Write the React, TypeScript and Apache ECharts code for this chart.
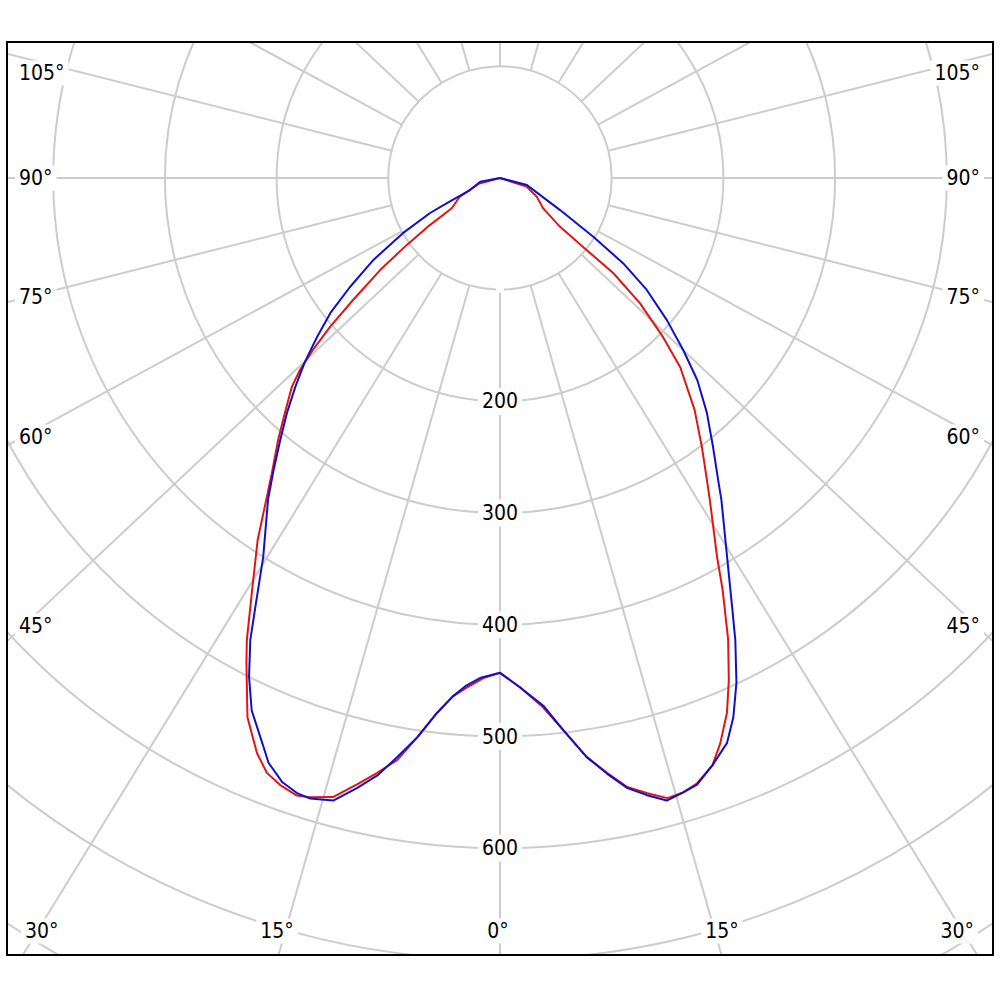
import React, { useEffect, useRef } from 'react';
import * as echarts from 'echarts';

// Intensity (cd), as [gamma in degrees, value]
const redLeft: [number, number][] = [
  [90, 0], [75.2, 19], [64.9, 40], [57.9, 51], [56.1, 76], [54.3, 103], [52.5, 135],
  [50.3, 171], [48.8, 202], [47.4, 228], [46.2, 248], [44.9, 264], [42.5, 285],
  [40.3, 307], [37.7, 334], [36.0, 356], [33.8, 390], [31.0, 431], [28.7, 472],
  [27.6, 490], [25.1, 533], [22.9, 559], [21.4, 572], [19.9, 578], [18.2, 582],
  [17.1, 580], [15.1, 574], [13.3, 558], [11.7, 544], [10.0, 529], [8.4, 506],
  [6.7, 482], [5.2, 466], [3.7, 457], [1.9, 448], [0, 443],
];
const redRight: [number, number][] = [
  [0, 443], [2.2, 456], [4.6, 475], [6.5, 497], [8.5, 524], [10.2, 541], [11.8, 557],
  [13.4, 566], [15.1, 575], [16.6, 574], [18.0, 570], [19.9, 559], [21.3, 543],
  [23.0, 520], [24.5, 494], [26.3, 461], [28.4, 419], [29.8, 391], [33.1, 344],
  [34.4, 328], [36.9, 301], [40.0, 271], [43.6, 234], [45.7, 204], [48.2, 168],
  [50.0, 132], [50.3, 97], [50.9, 69], [55, 47], [63, 37], [72, 25], [90, 0],
];
const blueLeft: [number, number][] = [
  [90, 0], [79.5, 18], [68.2, 29], [64.6, 53], [63.4, 70], [60.4, 100], [57.1, 135],
  [54.0, 166], [51.5, 194], [49.0, 217], [46.7, 240], [44.4, 262], [42.2, 284],
  [40.0, 306], [37.6, 333], [35.8, 355], [32.0, 400], [29.7, 442], [28.4, 470],
  [26.7, 500], [25.0, 526], [22.8, 549], [21.6, 563], [19.8, 575], [18.2, 580],
  [17.0, 581], [15.0, 577], [13.2, 561], [11.6, 546], [10.1, 527], [8.4, 506],
  [6.7, 482], [5.2, 466], [3.9, 456], [2.3, 448], [0, 443],
];
const blueRight: [number, number][] = [
  [0, 443], [2.2, 456], [4.7, 474], [6.5, 497], [8.5, 524], [10.2, 542], [11.8, 558],
  [13.4, 568], [15.0, 577], [16.6, 574], [18.0, 571], [19.9, 559], [21.9, 545],
  [23.4, 526], [25.1, 499], [27.0, 464], [28.4, 437], [30.9, 396], [34.5, 350],
  [35.8, 334], [38.4, 307], [41.4, 280], [44.3, 253], [46.8, 225], [49.6, 196],
  [52.7, 165], [55.3, 134], [57.8, 99], [61.9, 61], [75.3, 25], [90, 0],
];

// Tick labels
const radiusLabels = [200, 300, 400, 500, 600];
const sideAngleLabels = ['105°', '90°', '75°', '60°', '45°', '30°'];
const bottomAngleLabels = ['15°', '0°', '15°'];
const spokeStep = 15;

// Layout
const CX = 500;
const CY = 178;
const PX_PER_UNIT = 1.117;
const R_MAX = 900;
const INNER_R = 100;
const SPOKE_K = 0.94;
const FRAME = { x: 7, y: 42, w: 986, h: 913 };
const sideLabelY = [73, 178, 297, 437, 626, 931];
const sideLabelInset = [19, 19, 19, 19, 19, 25];
const bottomLabelX = [277, 498, 722];
const bottomLabelY = 931;

const FONT = '"DejaVu Sans Condensed", "DejaVu Sans", sans-serif';
const GRID = '#cccccc';

function toPolar(left: [number, number][], right: [number, number][]) {
  const a = left.map(([g, v]) => [v, g]);
  const b = right.map(([g, v]) => [v, 360 - g]);
  return [...a, ...b];
}

export default function App() {
  const ref = useRef<HTMLDivElement>(null);
  useEffect(() => {
    if (!ref.current) return;
    const chart = echarts.init(ref.current, undefined, { renderer: 'svg' });

    const graphics: any[] = [];
    for (let a = 0; a < 360; a += spokeStep) {
      const rad = (a * Math.PI) / 180;
      const vx = -Math.sin(rad);
      const vy = SPOKE_K * Math.cos(rad);
      const n = Math.hypot(vx, vy);
      const ux = vx / n;
      const uy = vy / n;
      const r0 = INNER_R * PX_PER_UNIT;
      graphics.push({
        type: 'line',
        silent: true,
        z: 1,
        shape: { x1: CX + ux * r0, y1: CY + uy * r0, x2: CX + ux * 1500, y2: CY + uy * 1500 },
        style: { stroke: GRID, lineWidth: 2 },
      });
    }
    // masks outside the frame
    const masks = [
      { x: 0, y: 0, width: 1000, height: FRAME.y - 1 },
      { x: 0, y: FRAME.y + FRAME.h + 1, width: 1000, height: 100 },
      { x: 0, y: 0, width: FRAME.x - 1, height: 1000 },
      { x: FRAME.x + FRAME.w + 1, y: 0, width: 100, height: 1000 },
    ];
    masks.forEach((m) =>
      graphics.push({ type: 'rect', silent: true, z: 50, shape: m, style: { fill: '#ffffff' } })
    );
    graphics.push({
      type: 'rect',
      silent: true,
      z: 51,
      shape: { x: FRAME.x, y: FRAME.y, width: FRAME.w, height: FRAME.h },
      style: { fill: 'none', stroke: '#000000', lineWidth: 2 },
    });
    const textStyle = (text: string, x: number, y: number, align: string) => ({
      text,
      x,
      y,
      align,
      verticalAlign: 'middle',
      fill: '#000000',
      fontSize: 21,
      fontFamily: FONT,
      backgroundColor: '#ffffff',
      padding: [2, 4],
    });
    sideAngleLabels.forEach((t, i) => {
      graphics.push({
        type: 'text',
        silent: true,
        z: 52,
        style: textStyle(t, sideLabelInset[i] - 4, sideLabelY[i], 'left'),
      });
      graphics.push({
        type: 'text',
        silent: true,
        z: 52,
        style: textStyle(t, 1000 - sideLabelInset[i] + 4 - 1, sideLabelY[i], 'right'),
      });
    });
    bottomAngleLabels.forEach((t, i) => {
      graphics.push({
        type: 'text',
        silent: true,
        z: 52,
        style: textStyle(t, bottomLabelX[i], bottomLabelY, 'center'),
      });
    });

    chart.setOption({
      animation: false,
      backgroundColor: '#ffffff',
      polar: { center: [CX, CY], radius: R_MAX * PX_PER_UNIT },
      angleAxis: {
        type: 'value',
        min: 0,
        max: 360,
        startAngle: 270,
        clockwise: true,
        axisLine: { show: false },
        axisTick: { show: false },
        axisLabel: { show: false },
        splitLine: { show: false },
      },
      radiusAxis: {
        type: 'value',
        min: 0,
        max: R_MAX,
        interval: 100,
        z: 5,
        axisLine: { show: false },
        axisTick: { show: false },
        splitLine: { show: true, lineStyle: { color: GRID, width: 2 } },
        axisLabel: {
          show: true,
          margin: 0,
          align: 'center',
          verticalAlign: 'middle',
          color: '#000000',
          fontSize: 21,
          fontFamily: FONT,
          backgroundColor: '#ffffff',
          padding: [3, 4],
          formatter: (v: number) => (radiusLabels.includes(v) ? String(v) : ''),
        },
      },
      series: [
        {
          type: 'line',
          coordinateSystem: 'polar',
          data: toPolar(redLeft, redRight),
          symbol: 'none',
          z: 10,
          lineStyle: { color: '#e01515', width: 2 },
        },
        {
          type: 'line',
          coordinateSystem: 'polar',
          data: toPolar(blueLeft, blueRight),
          symbol: 'none',
          z: 11,
          lineStyle: { color: '#1010cc', width: 2 },
        },
      ],
      graphic: { elements: graphics },
    });
    return () => chart.dispose();
  }, []);
  return (
    <div style={{ position: 'absolute', left: 0, top: 0, width: 1000, height: 1000, background: '#fff' }}>
      <div ref={ref} style={{ width: 1000, height: 1000 }} />
    </div>
  );
}
